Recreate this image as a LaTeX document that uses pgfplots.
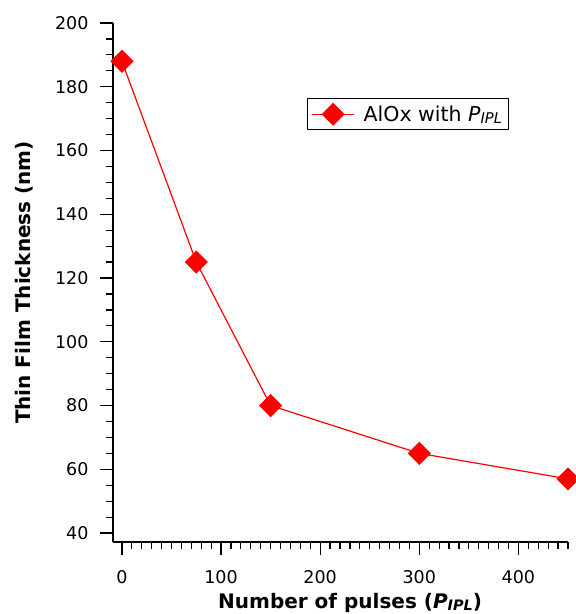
\documentclass[border=0pt]{standalone}
\usepackage{fontspec}
\setmainfont{DejaVu Sans}
\usepackage{graphicx}
\usepackage{pgfplots}
\pgfplotsset{compat=1.18}

\newcommand\pipl{{\itshape P\raisebox{-0.12em}{\scalebox{0.72}{IPL}}}}

\begin{document}
\begin{tikzpicture}
\begin{axis}[
    scale only axis,
    width=455pt, height=519pt,
    xmin=-9, xmax=450,
    ymin=37.2, ymax=200,
    axis lines=left,
    axis line style={-, line width=1.2pt},
    clip=false,
    tick align=outside,
    major tick length=13pt,
    minor tick length=7pt,
    every tick/.style={black, line width=1.2pt},
    xtick={0,100,200,300,400},
    ytick={40,60,...,200},
    minor xtick={10,20,...,450},
    minor ytick={45,50,...,200},
    /pgf/number format/assume math mode=true,
    xticklabel style={font=\fontsize{17.5}{20}\selectfont, yshift=-12pt},
    yticklabel style={font=\fontsize{17.5}{20}\selectfont, xshift=-8pt},
    xlabel={\textbf{Number of pulses (\pipl)}},
    ylabel={\textbf{Thin Film Thickness (nm)}},
    label style={font=\fontsize{20}{24}\selectfont},
    xlabel style={at={(axis description cs:0.521,-0.117)}, anchor=center},
    ylabel style={at={(axis description cs:-0.196,0.5)}, anchor=center},
    legend style={at={(0.4264,0.8555)}, anchor=north west,
        font=\fontsize{20.5}{24}\selectfont, draw=black, line width=1pt,
        inner xsep=4pt, inner ysep=5pt},
    legend cell align=left,
    legend image code/.code={
        \draw[mark repeat=2, mark phase=2, #1]
            plot coordinates {(0pt,0pt) (21pt,0pt) (42pt,0pt)};
    },
]
\addplot[red, line width=1.2pt, mark=square*, mark size=7.6pt,
    mark options={rotate=45, fill=red, draw=red}]
    coordinates {(0,188) (75,125) (150,80) (300,65) (450,57)};
\addlegendentry{\hspace{7pt}AlOx with \pipl}
\end{axis}
\pgfresetboundingbox
\path (current axis.south west) ++(-113pt,-72pt) rectangle ++(576pt,614pt);
\end{tikzpicture}
\end{document}
